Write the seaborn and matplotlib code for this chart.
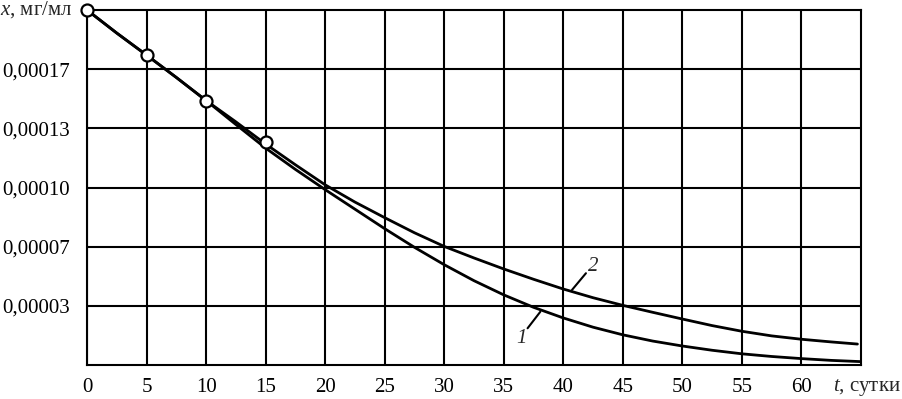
import pandas as pd
import seaborn as sns
import matplotlib.pyplot as plt

# значения
t1 = [0, 2.5, 5, 7.5, 10, 12.5, 15, 17.5, 20, 22.5, 25, 27.5, 30, 32.5,
      35, 37.5, 40, 42.5, 45, 47.5, 50, 52.5, 55, 57.5, 60, 62.5, 65]
curve1 = [0.000200, 0.000187, 0.0001746, 0.000162, 0.000149, 0.0001355, 0.0001222,
          0.0001102, 0.0000988, 0.0000878, 0.0000768, 0.0000663, 0.0000565, 0.0000475,
          0.0000395, 0.0000325, 0.0000265, 0.0000213, 0.0000170, 0.0000135, 0.0000107,
          0.0000083, 0.0000063, 0.0000048, 0.0000036, 0.0000026, 0.0000019]
t2 = [0, 2.5, 5, 7.5, 10, 12.5, 15, 17.5, 20, 22.5, 25, 27.5, 30, 32.5,
      35, 37.5, 40, 42.5, 45, 47.5, 50, 52.5, 55, 57.5, 60, 62.5, 64.7]
curve2 = [0.000200, 0.000187, 0.0001746, 0.000162, 0.000149, 0.000137, 0.0001245,
          0.0001128, 0.0001015, 0.0000918, 0.0000830, 0.0000745, 0.0000668, 0.0000603,
          0.0000541, 0.0000483, 0.0000428, 0.0000379, 0.0000336, 0.0000297, 0.0000259,
          0.0000222, 0.0000190, 0.0000164, 0.0000145, 0.0000130, 0.0000118]
t_exp = [0, 5, 10, 15]
x_exp = [0.000200, 0.0001746, 0.0001489, 0.0001258]

xticks = [0, 5, 10, 15, 20, 25, 30, 35, 40, 45, 50, 55, 60]
yticks = [0.0002 / 6 * i for i in range(1, 6)]
ylabels = ["0,00003", "0,00007", "0,00010", "0,00013", "0,00017"]

sns.set_theme(style="white")
plt.rcParams['font.family'] = ['Liberation Serif', 'DejaVu Serif']
plt.rcParams['mathtext.fontset'] = 'custom'
plt.rcParams['mathtext.rm'] = 'Liberation Serif'
plt.rcParams['mathtext.it'] = 'Liberation Serif:italic'

df1 = pd.DataFrame({"t": t1, "x": curve1})
df2 = pd.DataFrame({"t": t2, "x": curve2})
dfe = pd.DataFrame({"t": t_exp, "x": x_exp})

fig = plt.figure(figsize=(9.02, 3.99), dpi=100)
ax = fig.add_axes([87 / 902, 34 / 399, 774 / 902, 355 / 399])

sns.lineplot(data=df1, x="t", y="x", ax=ax, color="black", linewidth=2, zorder=3)
sns.lineplot(data=df2, x="t", y="x", ax=ax, color="black", linewidth=2, zorder=3)
sns.scatterplot(data=dfe, x="t", y="x", ax=ax, s=75, facecolor="white",
                edgecolor="black", linewidth=1.6, zorder=4, clip_on=False)

ax.set_xlim(0, 65)
ax.set_ylim(0, 0.0002)
ax.set_xticks(xticks)
ax.set_xticklabels([str(v) for v in xticks])
ax.set_yticks(yticks)
ax.set_yticklabels(ylabels)
ax.tick_params(length=0, labelsize=15, colors="black")
ax.tick_params(axis="y", pad=12)
ax.tick_params(axis="x", pad=9)
ax.set_xlabel("")
ax.set_ylabel("")

ax.grid(True, color="black", linewidth=1.5)
for sp in ax.spines.values():
    sp.set_color("black")
    sp.set_linewidth(1.5)

# подписи осей
ax.text(-0.018, 0.0001977, r"$x$, мг/мл", transform=ax.get_yaxis_transform(),
        ha="right", va="baseline", fontsize=15)
ax.annotate(r"$t$, сутки", xy=(65.5, 0), xycoords=("data", "axes fraction"),
            xytext=(0, -9), textcoords="offset points", ha="center", va="top",
            fontsize=15, annotation_clip=False)

# номера кривых
ax.plot([37.0, 38.07], [0.0000207, 0.0000300], color="black", lw=1.5)
ax.text(36.47, 0.0000150, "1", fontsize=15, style="italic", ha="center", va="center")
ax.plot([40.73, 41.9], [0.0000423, 0.0000517], color="black", lw=1.5)
ax.text(42.55, 0.0000554, "2", fontsize=15, style="italic", ha="center", va="center")

fig.savefig("out.png", dpi=100)
